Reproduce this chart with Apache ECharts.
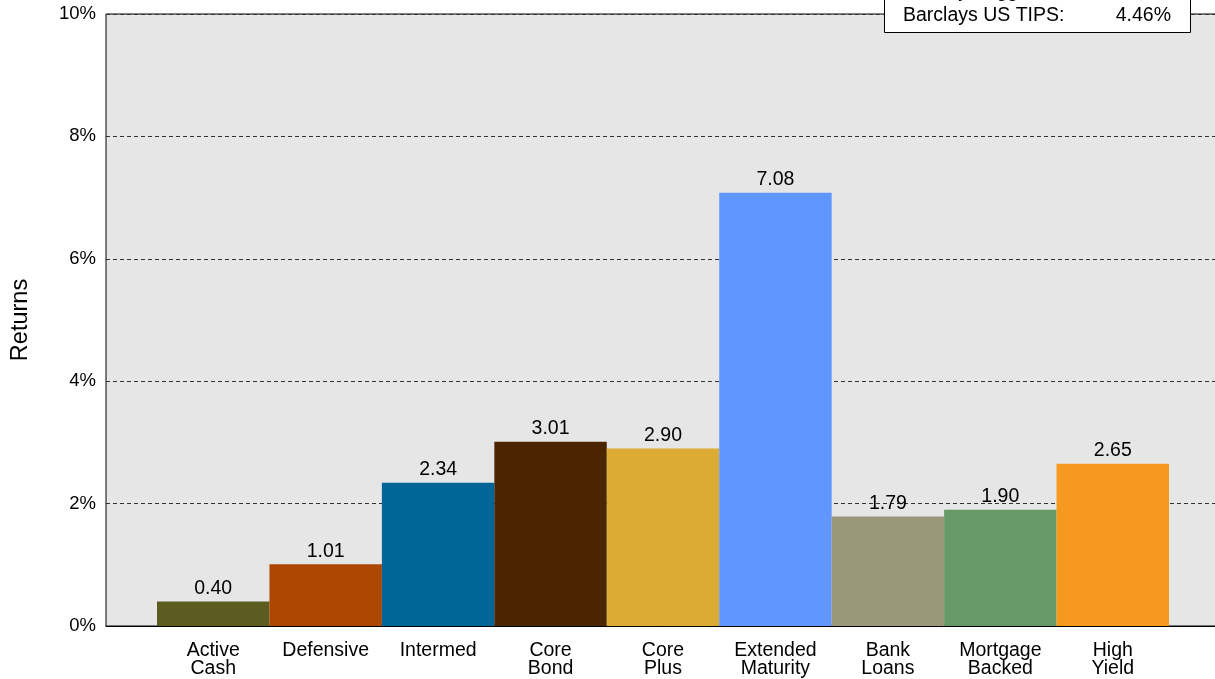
<!DOCTYPE html>
<html>
<head>
<meta charset="utf-8">
<script src="https://cdn.jsdelivr.net/npm/echarts@6/dist/echarts.min.js"></script>
<style>
  html, body { margin: 0; padding: 0; background: #fff; }
  #chart { width: 1215px; height: 679px; }
</style>
</head>
<body>
<div id="chart"></div>
<script>
// Strategy categories (two-line axis labels)
const categories = [
  'Active\nCash', 'Defensive', 'Intermed', 'Core\nBond', 'Core\nPlus',
  'Extended\nMaturity', 'Bank\nLoans', 'Mortgage\nBacked', 'High\nYield'
];
// Returns in percent
const returns = [0.40, 1.01, 2.34, 3.01, 2.90, 7.08, 1.79, 1.90, 2.65];
// Benchmark shown in the box
const benchmarkName = 'Barclays US TIPS:';
const benchmarkValue = '4.46%';
const benchmarkPrevName = 'Barclays Agg:';
// Y axis range
const yMin = 0, yMax = 10, yStep = 2;

const palette = ['#5c5c21', '#ad4600', '#00669a', '#4a2500', '#dbab33',
                 '#6196ff', '#9a9878', '#669966', '#f7981f'];

const FONT = '"Liberation Sans", Arial, sans-serif';

const chart = echarts.init(document.getElementById('chart'));
chart.setOption({
  animation: false,
  textStyle: { fontFamily: FONT },
  grid: [
    // framed grey plot panel carrying the value axis and dashed grid lines
    { left: 106, right: -6, top: 14, bottom: 53, show: true, containLabel: false,
      outerBoundsMode: 'none',
      backgroundColor: '#e6e6e6', borderColor: '#000', borderWidth: 1 },
    // inner band where the touching bars sit
    { left: 157, right: 46, top: 14, bottom: 53, containLabel: false, outerBoundsMode: 'none' }
  ],
  xAxis: [
    { gridIndex: 0, type: 'value', min: 0, max: 1, show: true,
      axisLine: { show: true, lineStyle: { color: '#000', width: 1 } },
      axisTick: { show: false }, axisLabel: { show: false }, splitLine: { show: false } },
    { gridIndex: 1, type: 'category', data: categories, boundaryGap: true,
      axisLine: { show: false }, axisTick: { show: false },
      axisLabel: { color: '#000', fontSize: 19.5, lineHeight: 18, margin: 16,
                   fontFamily: FONT, interval: 0 } }
  ],
  yAxis: [
    { gridIndex: 0, type: 'value', min: yMin, max: yMax, interval: yStep,
      name: 'Returns', nameLocation: 'middle', nameGap: 73, nameRotate: 90,
      nameTextStyle: { color: '#000', fontSize: 23.5, fontFamily: FONT },
      axisLine: { show: false }, axisTick: { show: false },
      axisLabel: { formatter: '{value}%', color: '#000', fontSize: 18.5, margin: 10, fontFamily: FONT,
                   showMaxLabel: true, padding: [3, 0, 0, 0] },
      splitLine: { show: true, lineStyle: { color: '#333', type: [4, 3], width: 1 } } },
    { gridIndex: 1, type: 'value', min: yMin, max: yMax, interval: yStep, show: false,
      splitLine: { show: false } }
  ],
  series: [{
    type: 'bar', xAxisIndex: 1, yAxisIndex: 1,
    data: returns.map((v, i) => ({ value: v, itemStyle: { color: palette[i] } })),
    barCategoryGap: 0, barGap: 0,
    label: { show: true, position: 'top', distance: 3, color: '#000', fontSize: 19.5,
             fontFamily: FONT, formatter: p => p.value.toFixed(2) }
  }],
  graphic: [
    { type: 'rect', shape: { x: 884.5, y: -30, width: 306, height: 62.5 },
      style: { fill: '#fff', stroke: '#000', lineWidth: 1 }, z: 100 },
    { type: 'text', x: 903, y: -8, style: { text: benchmarkPrevName, fill: '#000',
      font: '19.5px ' + FONT, textVerticalAlign: 'middle' }, z: 101 },
    { type: 'text', x: 903, y: 16, style: { text: benchmarkName, fill: '#000',
      font: '19.5px ' + FONT, textVerticalAlign: 'middle' }, z: 101 },
    { type: 'text', x: 1171, y: 16, style: { text: benchmarkValue, fill: '#000',
      font: '19.5px ' + FONT, textAlign: 'right', textVerticalAlign: 'middle' }, z: 101 }
  ]
});
</script>
</body>
</html>
